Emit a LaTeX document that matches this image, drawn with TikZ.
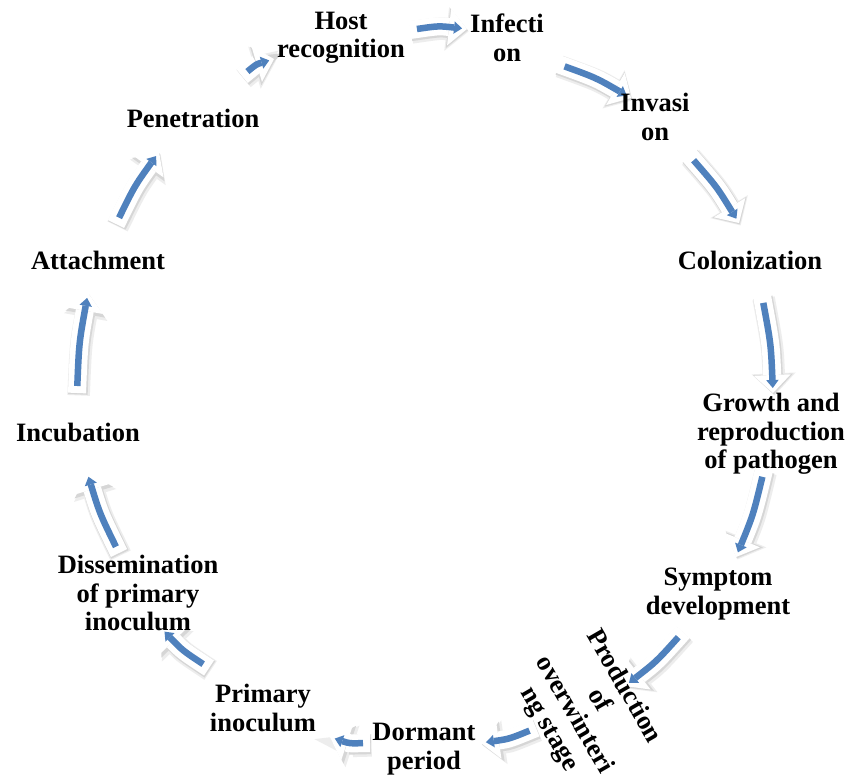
\documentclass[tikz,border=0pt]{standalone}
\usepackage{fontspec}
\setmainfont{Liberation Serif}
\usetikzlibrary{arrows.meta,calc}
\definecolor{arrblue}{RGB}{79,129,189}
\tikzset{
  lbl/.style={font=\fontsize{26.5}{28.5}\selectfont\bfseries, align=center, inner sep=0pt},
  shadowA/.style={draw=black!7, line width=22.5pt, line cap=butt,
    -{Triangle[width=44pt,length=22pt,line width=0pt]},
    transform canvas={shift={(1.6pt,-2.4pt)}}},
  shadowB/.style={draw=black!16, line width=19.5pt, line cap=butt,
    -{Triangle[width=40pt,length=20pt,line width=0pt]},
    transform canvas={shift={(0.9pt,-1.4pt)}}},
  whitearrow/.style={draw=white, line width=18pt, line cap=butt,
    -{Triangle[width=37pt,length=18pt,line width=0pt]}},
  bluearrow/.style={draw=arrblue, line width=6.5pt, line cap=butt,
    -{Triangle[width=12.5pt,length=8pt,line width=0pt]},
    shorten <=7pt, shorten >=5pt}
}
\newcommand{\cyclearrow}[2]{%
  \coordinate (m) at ($(#1)!0.5!(#2)$);
  \coordinate (c) at ($(O)!1.01!(m)$);
  \draw[shadowA] (#1) .. controls (c) .. (#2);
  \draw[shadowB] (#1) .. controls (c) .. (#2);
  \draw[whitearrow] (#1) .. controls (c) .. (#2);
  \draw[bluearrow] (#1) .. controls (c) .. (#2);
}
\begin{document}
\begin{tikzpicture}[x=1pt,y=-1pt]
\useasboundingbox[fill=white] (0,0) rectangle (847,778);
\coordinate (O) at (425,395);

% arrow end points
\coordinate (a1s) at (410,30);  \coordinate (a1e) at (467,29);
\coordinate (a2s) at (558,64);  \coordinate (a2e) at (631,98);
\coordinate (a3s) at (689,155); \coordinate (a3e) at (739,223);
\coordinate (a4s) at (762,296); \coordinate (a4e) at (773,393);
\coordinate (a5s) at (764,470); \coordinate (a5e) at (736,557);
\coordinate (a6s) at (683,632); \coordinate (a6e) at (625,686);
\coordinate (a7s) at (536,728); \coordinate (a7e) at (481,743);
\coordinate (a8s) at (370,743); \coordinate (a8e) at (330,737);
\coordinate (a9s) at (209,668); \coordinate (a9e) at (161,628);
\coordinate (a10s) at (119,553); \coordinate (a10e) at (87,472);
\coordinate (a11s) at (77,393); \coordinate (a11e) at (88,293);
\coordinate (a12s) at (116,224); \coordinate (a12e) at (159,152);
\coordinate (a13s) at (242,76); \coordinate (a13e) at (274,59);

\cyclearrow{a1s}{a1e}
\cyclearrow{a2s}{a2e}
\cyclearrow{a3s}{a3e}
\cyclearrow{a4s}{a4e}
\cyclearrow{a5s}{a5e}
\cyclearrow{a6s}{a6e}
\cyclearrow{a7s}{a7e}
\cyclearrow{a8s}{a8e}
\cyclearrow{a9s}{a9e}
\cyclearrow{a10s}{a10e}
\cyclearrow{a11s}{a11e}
\cyclearrow{a12s}{a12e}
\cyclearrow{a13s}{a13e}

\node[lbl] (host) at (341,38) {Host\\recognition};
\node[lbl] (infection) at (507,38) {Infecti\\on};
\node[lbl] (invasion) at (655,117) {Invasi\\on};
\node[lbl] (colon) at (750,260) {Colonization};
\node[lbl] (growth) at (771,434) {Growth and\\reproduction\\of pathogen};
\node[lbl] (symptom) at (718,594) {Symptom\\development};
\node[lbl, rotate=-60] (prod) at (586,708) {Production\\of\\overwinteri\\ng stage};
\node[lbl] (dormant) at (424,749) {Dormant\\period};
\node[lbl] (primary) at (263,708) {Primary\\inoculum};
\node[lbl] (dissem) at (138,593) {Dissemination\\of primary\\inoculum};
\node[lbl] (incub) at (78,432) {Incubation};
\node[lbl] (attach) at (98,260) {Attachment};
\node[lbl] (penet) at (193,118) {Penetration};
\end{tikzpicture}
\end{document}
